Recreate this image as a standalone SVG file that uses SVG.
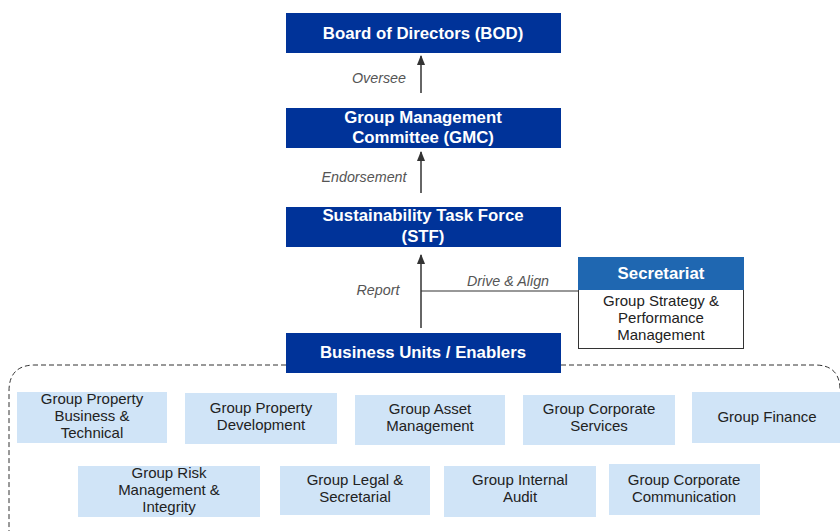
<svg xmlns="http://www.w3.org/2000/svg" width="840" height="531" viewBox="0 0 840 531">
<defs>
<style>
.dk{fill:#003399;}
.ht{font-family:"Liberation Sans",Arial,sans-serif;font-weight:bold;font-size:16.8px;fill:#fff;text-anchor:middle;}
.lb{fill:#d0e4f7;}
.lt{font-family:"Liberation Sans",Arial,sans-serif;font-size:15px;fill:#222;text-anchor:middle;}
.it{font-family:"Liberation Sans",Arial,sans-serif;font-style:italic;font-size:14.3px;fill:#555;text-anchor:middle;}
.ln{stroke:#333;stroke-width:1.5;fill:none;}
</style>
<marker id="ah" viewBox="0 0 10 10" refX="9" refY="5" markerWidth="7" markerHeight="7" orient="auto"><path d="M0,1 L10,5 L0,9 z" fill="#333"/></marker>
</defs>
<rect width="840" height="531" fill="#fff"/>
<g id="connectors">
<line class="ln" x1="421" y1="93" x2="421" y2="56" marker-end="url(#ah)"/>
<text class="it" x="379" y="83">Oversee</text>
<line class="ln" x1="421" y1="193" x2="421" y2="152" marker-end="url(#ah)"/>
<text class="it" x="364" y="182">Endorsement</text>
<line class="ln" x1="421" y1="328" x2="421" y2="255" marker-end="url(#ah)"/>
<text class="it" x="378" y="295">Report</text>
<line x1="421" y1="291" x2="580" y2="291" stroke="#333" stroke-width="1.2"/>
<text class="it" x="508" y="286">Drive &amp; Align</text>
</g>
<g id="dashed-group">
<path d="M286,365 L35,365 Q9,365 9,391 L9,531 M561,365 L815,365 Q840,365 840,390" fill="none" stroke="#333" stroke-width="1" stroke-dasharray="5,3"/>
</g>
<g id="bod"><rect class="dk" x="286" y="13" width="275" height="40"/><text class="ht" x="423" y="39">Board of Directors (BOD)</text></g>
<g id="gmc"><rect class="dk" x="286" y="108" width="275" height="40"/><text class="ht" x="423" y="123">Group Management</text><text class="ht" x="423" y="143">Committee (GMC)</text></g>
<g id="stf"><rect class="dk" x="286" y="207" width="275" height="40"/><text class="ht" x="423" y="221">Sustainability Task Force</text><text class="ht" x="423" y="242">(STF)</text></g>
<g id="secretariat">
<rect x="578.5" y="257.5" width="165" height="91" fill="#fff" stroke="#333" stroke-width="1"/>
<rect x="578" y="257" width="166" height="33" fill="#1f67b1"/>
<text class="ht" x="661" y="279">Secretariat</text>
<text class="lt" x="661" y="306">Group Strategy &amp;</text>
<text class="lt" x="661" y="323">Performance</text>
<text class="lt" x="661" y="340">Management</text>
</g>
<g id="bu"><rect class="dk" x="286" y="333" width="275" height="40"/><text class="ht" x="423" y="358">Business Units / Enablers</text></g>
<g id="gpbt"><rect class="lb" x="17" y="392" width="150" height="51"/><text class="lt" x="92" y="404">Group Property</text><text class="lt" x="92" y="421">Business &amp;</text><text class="lt" x="92" y="438">Technical</text></g>
<g id="gpd"><rect class="lb" x="185" y="393" width="152" height="51"/><text class="lt" x="261" y="413">Group Property</text><text class="lt" x="261" y="430">Development</text></g>
<g id="gam"><rect class="lb" x="355" y="395" width="150" height="50"/><text class="lt" x="430" y="414">Group Asset</text><text class="lt" x="430" y="431">Management</text></g>
<g id="gcs"><rect class="lb" x="523" y="395" width="152" height="50"/><text class="lt" x="599" y="414">Group Corporate</text><text class="lt" x="599" y="431">Services</text></g>
<g id="gf"><rect class="lb" x="692" y="392" width="148" height="51"/><text class="lt" x="767" y="422">Group Finance</text></g>
<g id="grmi"><rect class="lb" x="78" y="466" width="182" height="51"/><text class="lt" x="169" y="478">Group Risk</text><text class="lt" x="169" y="495">Management &amp;</text><text class="lt" x="169" y="512">Integrity</text></g>
<g id="gls"><rect class="lb" x="280" y="466" width="150" height="49"/><text class="lt" x="355" y="485">Group Legal &amp;</text><text class="lt" x="355" y="502">Secretarial</text></g>
<g id="gia"><rect class="lb" x="444" y="466" width="152" height="51"/><text class="lt" x="520" y="485">Group Internal</text><text class="lt" x="520" y="502">Audit</text></g>
<g id="gcc"><rect class="lb" x="609" y="464" width="151" height="51"/><text class="lt" x="684" y="485">Group Corporate</text><text class="lt" x="684" y="502">Communication</text></g>
</svg>
